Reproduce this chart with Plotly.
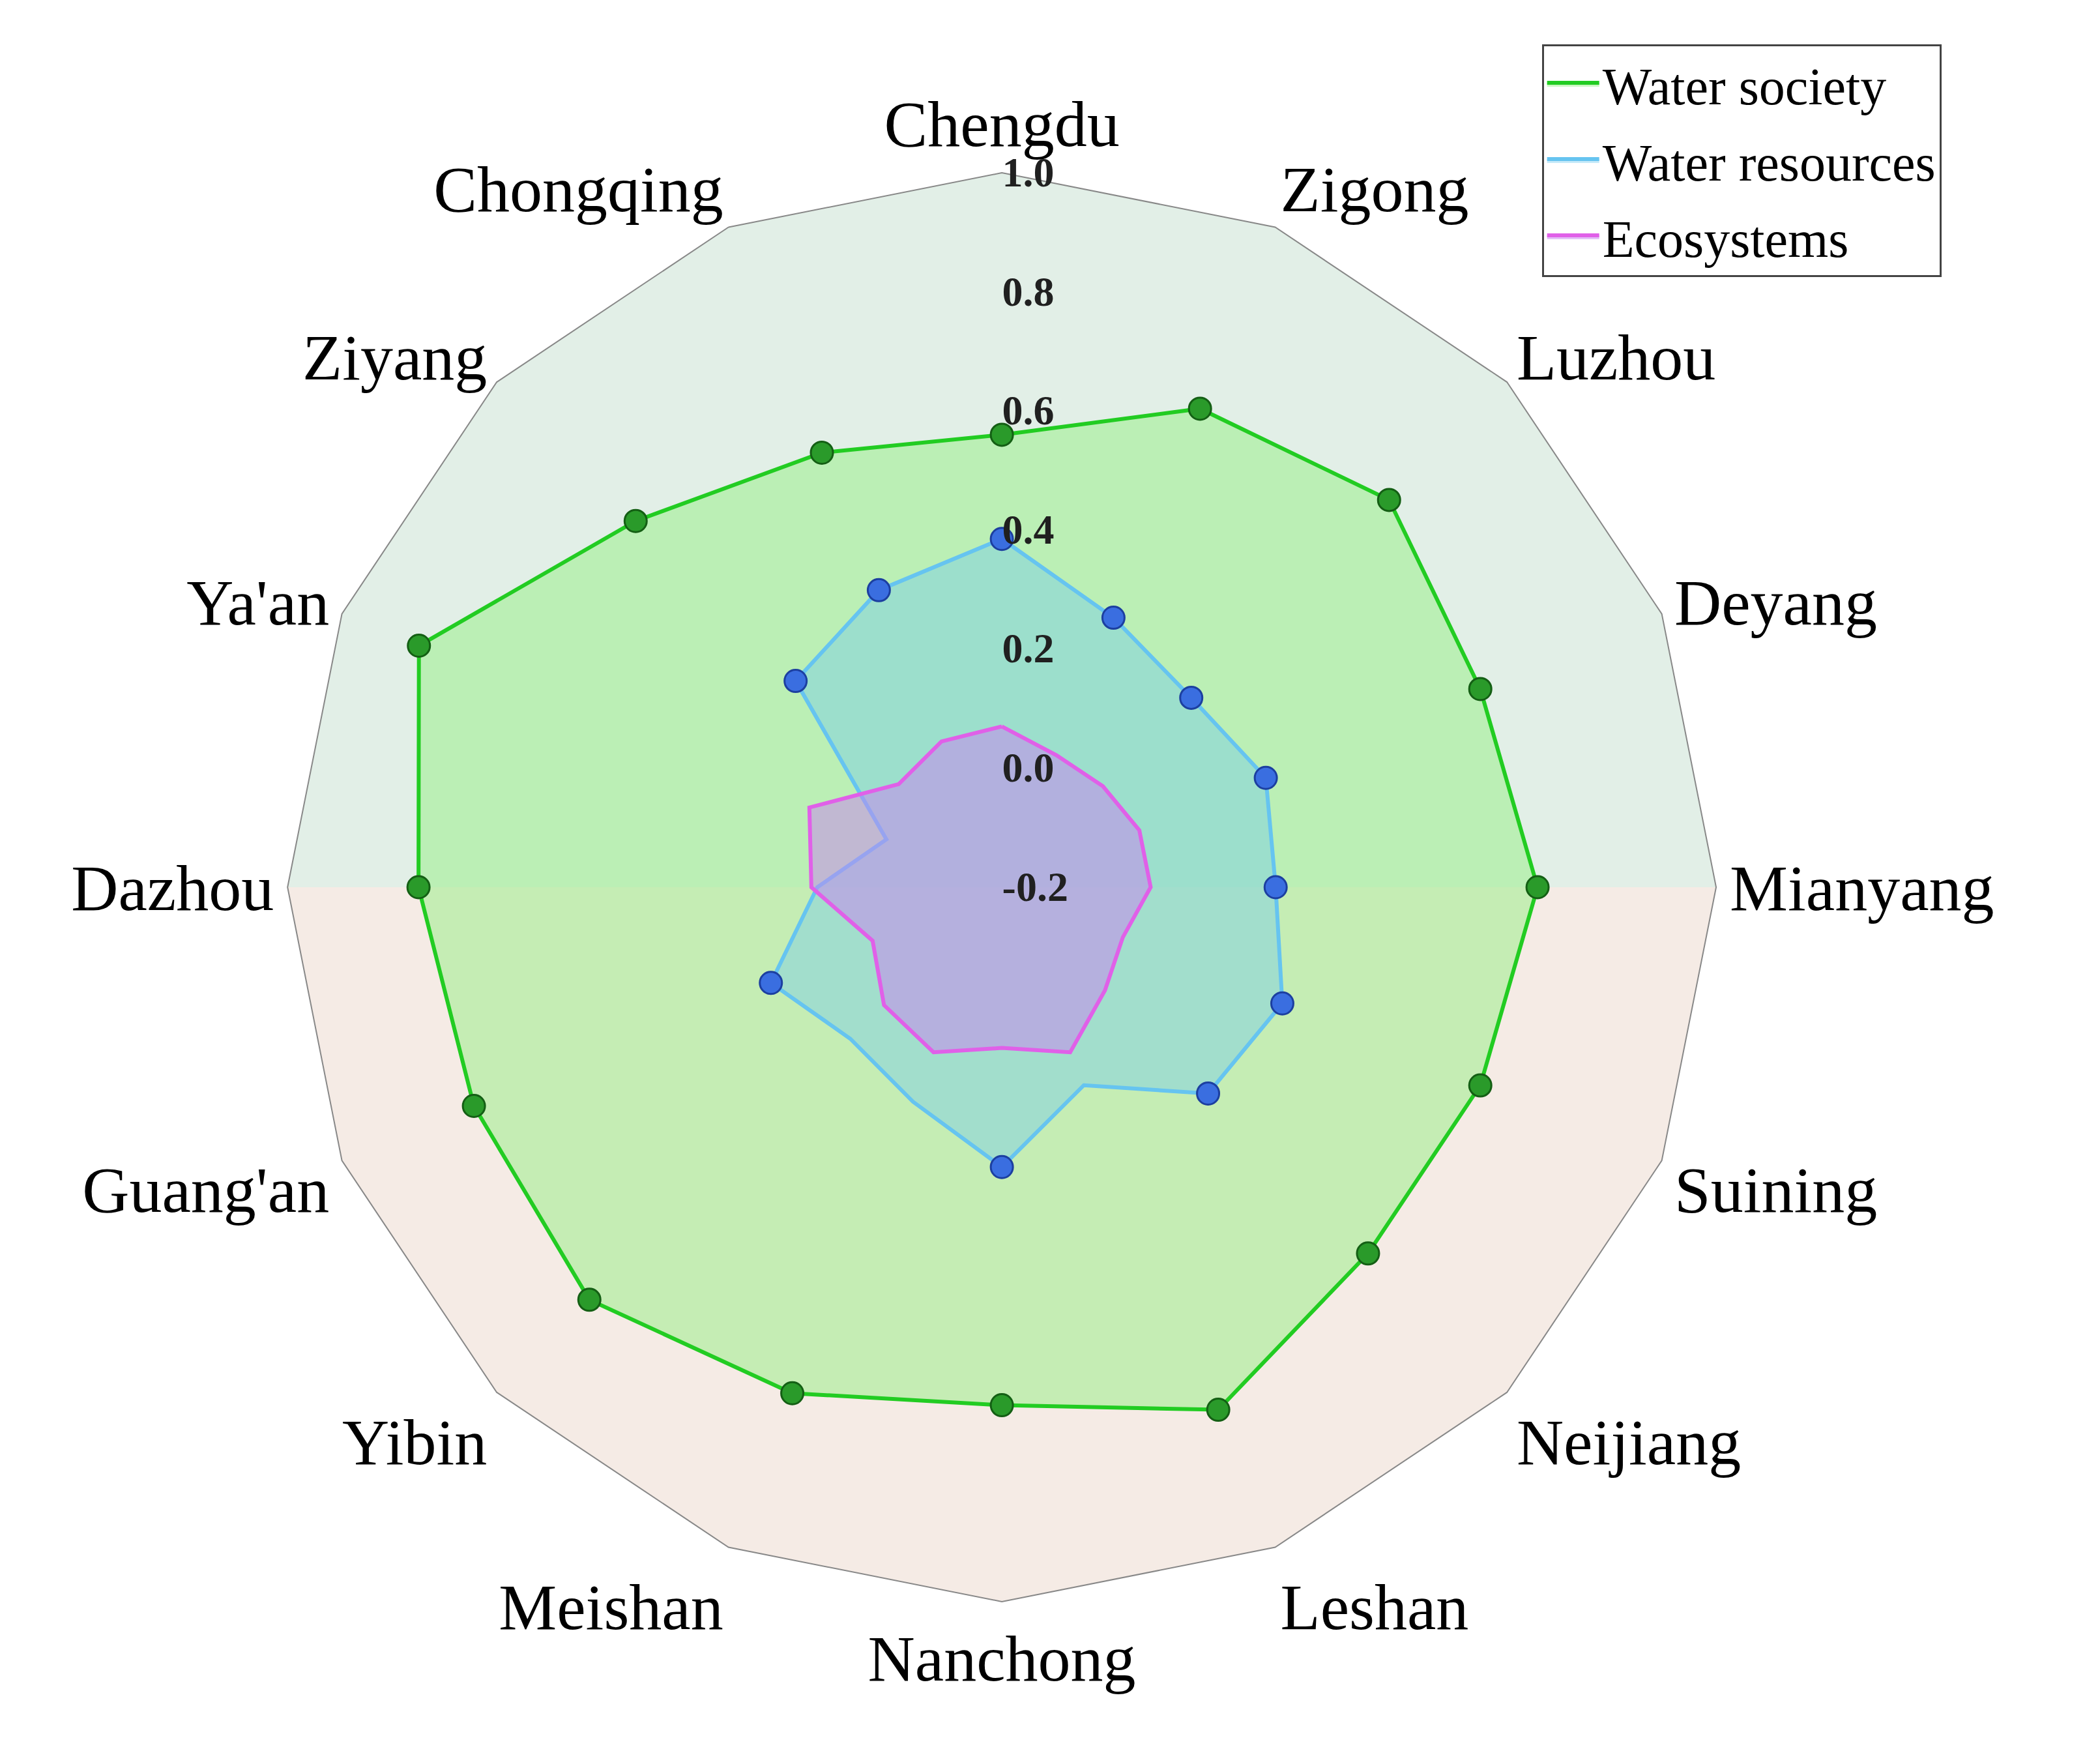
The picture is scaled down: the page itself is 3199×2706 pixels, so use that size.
import plotly.graph_objects as go

cities = ["Chengdu","Zigong","Luzhou","Deyang","Mianyang","Suining","Neijiang","Leshan","Nanchong",
          "Meishan","Yibin","Guang'an","Dazhou","Ya'an","Ziyang","Chongqing"]
water_society = [0.56,0.67,0.72,0.67,0.70,0.67,0.67,0.75,0.67,0.72,0.78,0.76,0.78,0.86,0.67,0.59]
water_resources = [0.385,0.29,0.25,0.28,0.26,0.31,0.29,0.16,0.27,0.19,0.16,0.22,0.11,0.01,0.29,0.34]
ecosystems = [0.07,0.04,0.04,0.05,0.05,0.02,0.045,0.10,0.07,0.10,0.08,0.035,0.12,0.15,0.045,0.065]
tick_vals = [-0.2,0.0,0.2,0.4,0.6,0.8,1.0]
tick_text = ["-0.2","0.0","0.2","0.4","0.6","0.8","1.0"]

FONT = "Liberation Serif"

fig = go.Figure()
upper = cities[12:] + cities[:5]   # Dazhou ... Mianyang through top
lower = cities[4:13]               # Mianyang ... Dazhou through bottom
fig.add_trace(go.Scatterpolar(r=[1.0]*len(upper)+[-0.2], theta=upper+["Chengdu"], fill="toself",
    fillcolor="#e2efe7", line=dict(width=0), mode="lines", showlegend=False, hoverinfo="skip"))
fig.add_trace(go.Scatterpolar(r=[1.0]*len(lower)+[-0.2], theta=lower+["Nanchong"], fill="toself",
    fillcolor="#f5ebe5", line=dict(width=0), mode="lines", showlegend=False, hoverinfo="skip"))

def add(vals, name, line, fill, mk, mkl):
    fig.add_trace(go.Scatterpolar(r=vals+[vals[0]], theta=cities+[cities[0]], name=name,
        mode="lines", fill="toself", fillcolor=fill, legendgroup=name,
        line=dict(color=line, width=6)))
    fig.add_trace(go.Scatterpolar(r=vals, theta=cities, mode="markers", showlegend=False,
        legendgroup=name, marker=dict(size=34, color=mk, line=dict(color=mkl, width=3))))

add(water_society, "Water society", "#22cc22", "rgba(140,240,120,0.45)", "#2a9a2a", "#145f14")
add(water_resources, "Water resources", "#66c4f0", "rgba(110,200,240,0.40)", "#3a6ee0", "#1c3fa0")
add(ecosystems, "Ecosystems", "#e060e8", "rgba(200,130,240,0.50)", "#e090ee", "#b050c0")

fig.update_layout(
    width=3199, height=2706, paper_bgcolor="white",
    font=dict(family=FONT, color="black"),
    polar=dict(
        domain=dict(x=[0.133,0.823], y=[0.095,0.905]),
        bgcolor="rgba(0,0,0,0)", gridshape="linear",
        radialaxis=dict(range=[-0.2,1.0], tickvals=tick_vals, ticktext=tick_text, angle=90,
            tickangle=90, showline=False, gridcolor="#a0a0a0", gridwidth=2, ticks="",
            tickfont=dict(size=64, family=FONT, color="#202020", weight="bold"), layer="above traces"),
        angularaxis=dict(type="category", categoryorder="array", categoryarray=cities,
            direction="clockwise", rotation=90,
            gridcolor="black", gridwidth=3, linecolor="#888888", linewidth=2, ticks="",
            tickfont=dict(size=100, family=FONT), layer="above traces"),
    ),
    legend=dict(x=0.737, y=0.978, xanchor="left", yanchor="top", bgcolor="white",
        bordercolor="#444", borderwidth=3, font=dict(size=80, family=FONT), itemwidth=80),
    margin=dict(l=0, r=0, t=0, b=0),
)
fig.write_html("out.html")
